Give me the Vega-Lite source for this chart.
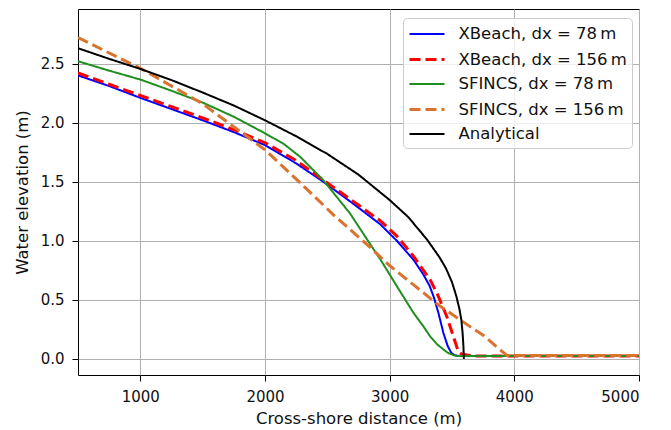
{
  "$schema": "https://vega.github.io/schema/vega-lite/v6.json",
  "width": 561,
  "height": 366,
  "autosize": {"type": "none"},
  "padding": {"left": 78, "top": 9, "right": 32, "bottom": 55},
  "background": "white",
  "config": {
    "font": "DejaVu Sans",
    "view": {"stroke": "#000", "strokeWidth": 1},
    "axis": {"domain": false, "grid": true, "gridColor": "#b0b0b0", "gridWidth": 1, "tickColor": "#000", "tickSize": 6, "labelFontSize": 15, "labelColor": "#111", "titleFontSize": 16.5, "titleFontWeight": "normal", "titleColor": "#111", "labelFont": "DejaVu Sans", "titleFont": "DejaVu Sans"}
  },
  "data": {"values": [
    {"s": "XBeach, dx = 78\u2009m", "x": 500, "y": 2.40},
    {"s": "XBeach, dx = 78\u2009m", "x": 750, "y": 2.31},
    {"s": "XBeach, dx = 78\u2009m", "x": 1000, "y": 2.21},
    {"s": "XBeach, dx = 78\u2009m", "x": 1250, "y": 2.115},
    {"s": "XBeach, dx = 78\u2009m", "x": 1500, "y": 2.02},
    {"s": "XBeach, dx = 78\u2009m", "x": 1750, "y": 1.92},
    {"s": "XBeach, dx = 78\u2009m", "x": 2000, "y": 1.81},
    {"s": "XBeach, dx = 78\u2009m", "x": 2250, "y": 1.655},
    {"s": "XBeach, dx = 78\u2009m", "x": 2440, "y": 1.52},
    {"s": "XBeach, dx = 78\u2009m", "x": 2500, "y": 1.475},
    {"s": "XBeach, dx = 78\u2009m", "x": 2700, "y": 1.32},
    {"s": "XBeach, dx = 78\u2009m", "x": 2924, "y": 1.14},
    {"s": "XBeach, dx = 78\u2009m", "x": 3058, "y": 1.0},
    {"s": "XBeach, dx = 78\u2009m", "x": 3191, "y": 0.84},
    {"s": "XBeach, dx = 78\u2009m", "x": 3270, "y": 0.715},
    {"s": "XBeach, dx = 78\u2009m", "x": 3320, "y": 0.62},
    {"s": "XBeach, dx = 78\u2009m", "x": 3355, "y": 0.52},
    {"s": "XBeach, dx = 78\u2009m", "x": 3391, "y": 0.39},
    {"s": "XBeach, dx = 78\u2009m", "x": 3431, "y": 0.22},
    {"s": "XBeach, dx = 78\u2009m", "x": 3465, "y": 0.11},
    {"s": "XBeach, dx = 78\u2009m", "x": 3495, "y": 0.05},
    {"s": "XBeach, dx = 78\u2009m", "x": 3525, "y": 0.03},
    {"s": "XBeach, dx = 78\u2009m", "x": 3560, "y": 0.025},
    {"s": "XBeach, dx = 78\u2009m", "x": 5000, "y": 0.025},

    {"s": "XBeach, dx = 156\u2009m", "x": 500, "y": 2.42},
    {"s": "XBeach, dx = 156\u2009m", "x": 750, "y": 2.325},
    {"s": "XBeach, dx = 156\u2009m", "x": 1000, "y": 2.23},
    {"s": "XBeach, dx = 156\u2009m", "x": 1250, "y": 2.135},
    {"s": "XBeach, dx = 156\u2009m", "x": 1500, "y": 2.04},
    {"s": "XBeach, dx = 156\u2009m", "x": 1750, "y": 1.94},
    {"s": "XBeach, dx = 156\u2009m", "x": 2000, "y": 1.83},
    {"s": "XBeach, dx = 156\u2009m", "x": 2250, "y": 1.68},
    {"s": "XBeach, dx = 156\u2009m", "x": 2440, "y": 1.535},
    {"s": "XBeach, dx = 156\u2009m", "x": 2500, "y": 1.49},
    {"s": "XBeach, dx = 156\u2009m", "x": 2700, "y": 1.34},
    {"s": "XBeach, dx = 156\u2009m", "x": 2924, "y": 1.17},
    {"s": "XBeach, dx = 156\u2009m", "x": 3058, "y": 1.04},
    {"s": "XBeach, dx = 156\u2009m", "x": 3191, "y": 0.87},
    {"s": "XBeach, dx = 156\u2009m", "x": 3325, "y": 0.67},
    {"s": "XBeach, dx = 156\u2009m", "x": 3391, "y": 0.53},
    {"s": "XBeach, dx = 156\u2009m", "x": 3458, "y": 0.36},
    {"s": "XBeach, dx = 156\u2009m", "x": 3511, "y": 0.19},
    {"s": "XBeach, dx = 156\u2009m", "x": 3552, "y": 0.06},
    {"s": "XBeach, dx = 156\u2009m", "x": 3580, "y": 0.04},
    {"s": "XBeach, dx = 156\u2009m", "x": 3620, "y": 0.034},
    {"s": "XBeach, dx = 156\u2009m", "x": 3670, "y": 0.025},
    {"s": "XBeach, dx = 156\u2009m", "x": 5000, "y": 0.025},

    {"s": "SFINCS, dx = 78\u2009m", "x": 500, "y": 2.52},
    {"s": "SFINCS, dx = 78\u2009m", "x": 750, "y": 2.44},
    {"s": "SFINCS, dx = 78\u2009m", "x": 1000, "y": 2.365},
    {"s": "SFINCS, dx = 78\u2009m", "x": 1250, "y": 2.27},
    {"s": "SFINCS, dx = 78\u2009m", "x": 1500, "y": 2.17},
    {"s": "SFINCS, dx = 78\u2009m", "x": 1750, "y": 2.05},
    {"s": "SFINCS, dx = 78\u2009m", "x": 2000, "y": 1.91},
    {"s": "SFINCS, dx = 78\u2009m", "x": 2150, "y": 1.82},
    {"s": "SFINCS, dx = 78\u2009m", "x": 2283, "y": 1.71},
    {"s": "SFINCS, dx = 78\u2009m", "x": 2470, "y": 1.51},
    {"s": "SFINCS, dx = 78\u2009m", "x": 2683, "y": 1.23},
    {"s": "SFINCS, dx = 78\u2009m", "x": 2857, "y": 0.95},
    {"s": "SFINCS, dx = 78\u2009m", "x": 2924, "y": 0.845},
    {"s": "SFINCS, dx = 78\u2009m", "x": 3058, "y": 0.615},
    {"s": "SFINCS, dx = 78\u2009m", "x": 3191, "y": 0.39},
    {"s": "SFINCS, dx = 78\u2009m", "x": 3271, "y": 0.275},
    {"s": "SFINCS, dx = 78\u2009m", "x": 3325, "y": 0.19},
    {"s": "SFINCS, dx = 78\u2009m", "x": 3380, "y": 0.125},
    {"s": "SFINCS, dx = 78\u2009m", "x": 3431, "y": 0.08},
    {"s": "SFINCS, dx = 78\u2009m", "x": 3470, "y": 0.05},
    {"s": "SFINCS, dx = 78\u2009m", "x": 3511, "y": 0.032},
    {"s": "SFINCS, dx = 78\u2009m", "x": 3540, "y": 0.025},
    {"s": "SFINCS, dx = 78\u2009m", "x": 5000, "y": 0.025},

    {"s": "SFINCS, dx = 156\u2009m", "x": 500, "y": 2.72},
    {"s": "SFINCS, dx = 156\u2009m", "x": 1000, "y": 2.46},
    {"s": "SFINCS, dx = 156\u2009m", "x": 1500, "y": 2.16},
    {"s": "SFINCS, dx = 156\u2009m", "x": 2000, "y": 1.77},
    {"s": "SFINCS, dx = 156\u2009m", "x": 2283, "y": 1.49},
    {"s": "SFINCS, dx = 156\u2009m", "x": 2549, "y": 1.22},
    {"s": "SFINCS, dx = 156\u2009m", "x": 2817, "y": 0.97},
    {"s": "SFINCS, dx = 156\u2009m", "x": 3000, "y": 0.79},
    {"s": "SFINCS, dx = 156\u2009m", "x": 3200, "y": 0.62},
    {"s": "SFINCS, dx = 156\u2009m", "x": 3400, "y": 0.45},
    {"s": "SFINCS, dx = 156\u2009m", "x": 3580, "y": 0.32},
    {"s": "SFINCS, dx = 156\u2009m", "x": 3750, "y": 0.2},
    {"s": "SFINCS, dx = 156\u2009m", "x": 3940, "y": 0.03},
    {"s": "SFINCS, dx = 156\u2009m", "x": 5000, "y": 0.03},

    {"s": "Analytical", "x": 500, "y": 2.63},
    {"s": "Analytical", "x": 750, "y": 2.54},
    {"s": "Analytical", "x": 1000, "y": 2.455},
    {"s": "Analytical", "x": 1250, "y": 2.36},
    {"s": "Analytical", "x": 1500, "y": 2.255},
    {"s": "Analytical", "x": 1750, "y": 2.145},
    {"s": "Analytical", "x": 2000, "y": 2.02},
    {"s": "Analytical", "x": 2250, "y": 1.885},
    {"s": "Analytical", "x": 2500, "y": 1.735},
    {"s": "Analytical", "x": 2750, "y": 1.56},
    {"s": "Analytical", "x": 3000, "y": 1.345},
    {"s": "Analytical", "x": 3150, "y": 1.2},
    {"s": "Analytical", "x": 3300, "y": 1.01},
    {"s": "Analytical", "x": 3400, "y": 0.86},
    {"s": "Analytical", "x": 3450, "y": 0.77},
    {"s": "Analytical", "x": 3500, "y": 0.65},
    {"s": "Analytical", "x": 3535, "y": 0.53},
    {"s": "Analytical", "x": 3560, "y": 0.42},
    {"s": "Analytical", "x": 3575, "y": 0.33},
    {"s": "Analytical", "x": 3585, "y": 0.22},
    {"s": "Analytical", "x": 3592, "y": 0.1},
    {"s": "Analytical", "x": 3595, "y": 0.0}
  ]},
  "mark": {"type": "line", "clip": true},
  "encoding": {
    "x": {"field": "x", "type": "quantitative", "scale": {"domain": [500, 5000], "nice": false, "zero": false},
      "axis": {"values": [1000, 2000, 3000, 4000, 5000], "format": "d", "title": "Cross-shore distance (m)", "labelPadding": 8, "titlePadding": 6}},
    "y": {"field": "y", "type": "quantitative", "scale": {"domain": [-0.136, 2.962], "nice": false, "zero": false},
      "axis": {"values": [0, 0.5, 1, 1.5, 2, 2.5], "format": ".1f", "title": "Water elevation (m)", "labelPadding": 8, "titlePadding": 10}},
    "color": {"field": "s", "type": "nominal",
      "scale": {"domain": ["XBeach, dx = 78\u2009m", "XBeach, dx = 156\u2009m", "SFINCS, dx = 78\u2009m", "SFINCS, dx = 156\u2009m", "Analytical"],
                "range": ["#0000ff", "#ff0000", "#1f8f1f", "#d9732e", "#000000"]},
      "legend": {"title": null, "orient": "none", "legendX": 325, "legendY": 9, "symbolType": "M-1.75,0H1.75", "symbolSize": 400, "symbolOffset": 7.5, "symbolStrokeWidth": 2.2, "labelFontSize": 16.5, "labelColor": "#111", "labelLimit": 400, "labelOffset": 20, "padding": 5, "rowPadding": 5, "strokeColor": "#cccccc", "fillColor": "rgba(255,255,255,0.8)", "cornerRadius": 4}},
    "strokeDash": {"field": "s", "type": "nominal",
      "scale": {"domain": ["XBeach, dx = 78\u2009m", "XBeach, dx = 156\u2009m", "SFINCS, dx = 78\u2009m", "SFINCS, dx = 156\u2009m", "Analytical"],
                "range": [[1, 0], [11, 5], [1, 0], [11, 5], [1, 0]]},
      "legend": {"title": null}},
    "strokeWidth": {"field": "s", "type": "nominal",
      "scale": {"type": "ordinal", "domain": ["XBeach, dx = 78\u2009m", "XBeach, dx = 156\u2009m", "SFINCS, dx = 78\u2009m", "SFINCS, dx = 156\u2009m", "Analytical"],
                "range": [2, 3, 2, 3, 2]},
      "legend": null}
  }
}
